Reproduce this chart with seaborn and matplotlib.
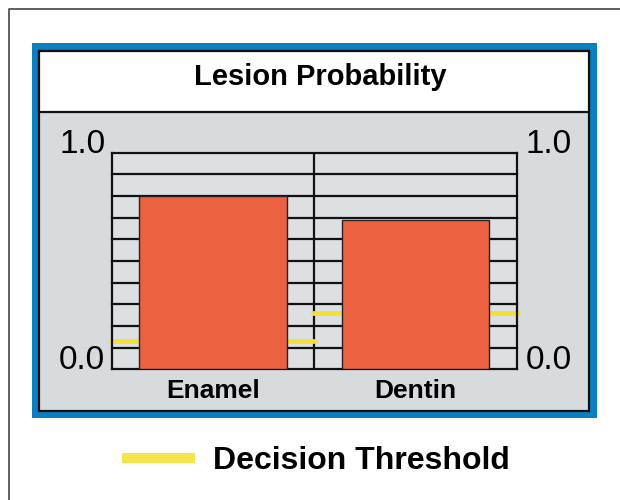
import matplotlib
matplotlib.use("Agg")
import matplotlib.pyplot as plt
from matplotlib.patches import Rectangle
from matplotlib.lines import Line2D
import pandas as pd
import seaborn as sns

# Values
tissues = ["Enamel", "Dentin"]
lesion_prob = [0.80, 0.69]
thresholds = [0.13, 0.26]
grid_levels = [0.0, 0.1, 0.2, 0.3, 0.4, 0.5, 0.6, 0.7, 0.8, 0.9, 1.0]

BAR_COLOR = "#EC6140"
YELLOW = "#F3DE3A"
BLUE = "#0B7FBF"
PANEL_GRAY = "#D8DBDE"

plt.rcParams["font.family"] = ["Liberation Sans", "DejaVu Sans"]

W, H = 620, 500
fig = plt.figure(figsize=(W / 100, H / 100), dpi=100)


def fig_box(x0, y0, x1, y1, **kw):
    # rectangle given in pixel coords (top-left origin)
    return Rectangle((x0 / W, 1 - y1 / H), (x1 - x0) / W, (y1 - y0) / H,
                     transform=fig.transFigure, zorder=-1, **kw)


# frame decorations
fig.add_artist(Line2D([9 / W, 9 / W, 1], [0, 1 - 9 / H, 1 - 9 / H],
                      transform=fig.transFigure, color="#444444", lw=1.2))
fig.patches.append(fig_box(32, 43, 597, 418, facecolor=BLUE, edgecolor="none"))
fig.patches.append(fig_box(39, 51, 589, 411, facecolor=PANEL_GRAY,
                           edgecolor="#111111", lw=1.6))
fig.patches.append(fig_box(39, 51, 589, 112, facecolor="white",
                           edgecolor="#111111", lw=1.6))

fig.text(320 / W, 1 - 85 / H, "Lesion Probability", ha="center", va="baseline",
         fontsize=21, fontweight="bold")

ax = fig.add_axes([111.7 / W, 1 - 369.3 / H, 405 / W, 216.6 / H])
ax.set_zorder(5)
ax.set_facecolor("#DDE0E3")

df = pd.DataFrame({"tissue": tissues, "prob": lesion_prob})
sns.barplot(data=df, x="tissue", y="prob", color=BAR_COLOR, saturation=1,
            width=0.73, edgecolor="#222222", linewidth=1, zorder=3, ax=ax)

# ruled grid behind the bars
for lvl in grid_levels:
    ax.axhline(lvl, color="#111111", lw=1.6, zorder=1, clip_on=False)
ax.axvline(0.5, color="#111111", lw=1.6, zorder=1)

# decision threshold for each tissue
for i, t in enumerate(thresholds):
    ax.hlines(t, i - 0.515, i + 0.515, color=YELLOW, lw=3.4, zorder=2, clip_on=False)

ax.set_xlim(-0.5, 1.5)
ax.set_ylim(0, 1)
for side in ["top", "bottom"]:
    ax.spines[side].set_visible(False)
for side in ["left", "right"]:
    ax.spines[side].set_color("#111111")
    ax.spines[side].set_linewidth(1.6)

ax.set_yticks([])
ax.set_xlabel("")
ax.set_ylabel("")
ax.tick_params(axis="x", length=0, pad=7, labelsize=19)
for lab in ax.get_xticklabels():
    lab.set_fontweight("bold")

ytrans = ax.get_yaxis_transform()
for val, txt in [(0.0, "0.0"), (1.0, "1.0")]:
    ax.text(-0.016, val, txt, transform=ytrans, ha="right", va="baseline", fontsize=24)
    ax.text(1.022, val, txt, transform=ytrans, ha="left", va="baseline", fontsize=24)

fig.legend(handles=[Line2D([], [], color="#F5E44A", lw=7.2)],
           labels=["Decision Threshold"], loc="center",
           bbox_to_anchor=(318 / W, 1 - 461 / H), frameon=False,
           handlelength=2.0, handletextpad=0.7,
           prop={"weight": "bold", "size": 23})

fig.savefig("out.png", dpi=100)
